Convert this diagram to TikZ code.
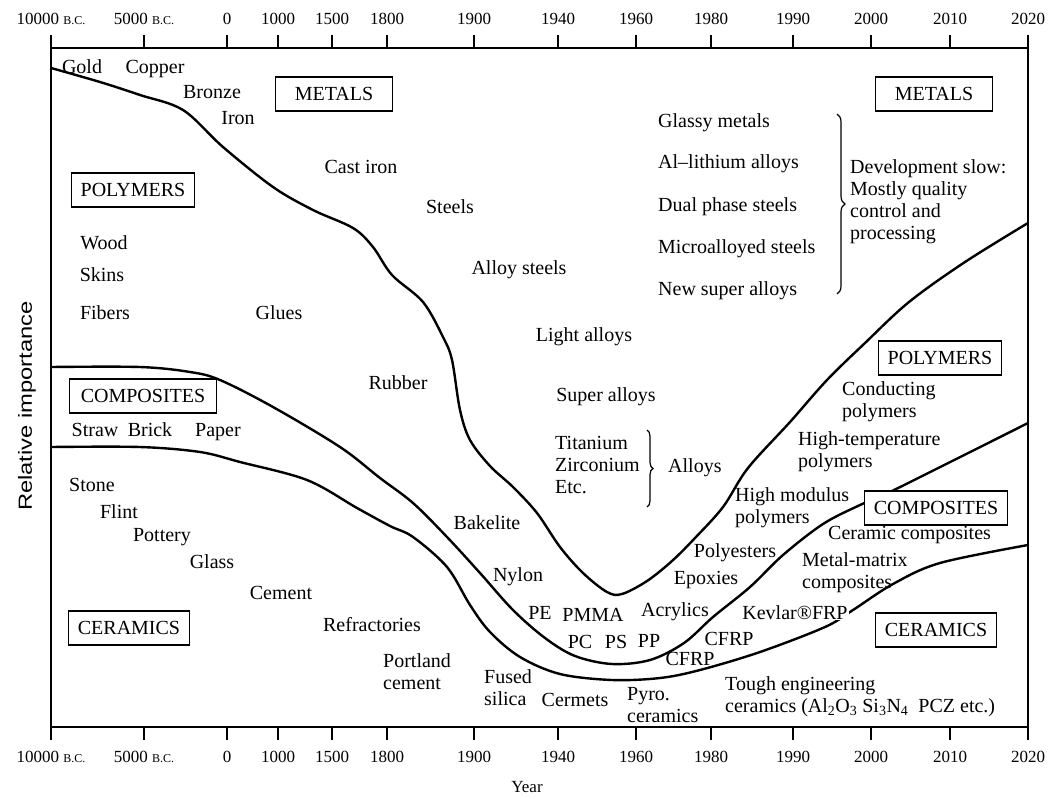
\documentclass[tikz,border=0pt]{standalone}
\usepackage{fontspec}
\setmainfont{Liberation Serif}
\setsansfont{Liberation Sans}
\usetikzlibrary{decorations.pathreplacing}

\begin{document}
\begin{tikzpicture}[x=1pt, y=-1pt,
  lbl/.style={inner sep=0pt, font=\fontsize{20}{22}\selectfont, align=left},
  cls/.style={draw, line width=1.2pt, fill=white, inner xsep=9pt, inner ysep=0pt, minimum height=34pt, font=\fontsize{20}{22}\selectfont},
  yr/.style={inner sep=0pt, font=\fontsize{17}{17}\selectfont},
  trend/.style={line width=2.4pt, line join=round, line cap=round},
  grp/.style={decorate, decoration={brace, amplitude=#1}, line width=1.2pt},
  grp/.default=8pt
]
  \useasboundingbox (0,0) rectangle (1055,798);

  \draw[line width=1.4pt] (51,48) rectangle (1028,727);
  \foreach \x/\t [count=\i] in {51/{10000 {\fontsize{12}{12}\selectfont B.C.}}, 144/{5000 {\fontsize{12}{12}\selectfont B.C.}},
      227/0, 278/1000, 332/1500, 387/1800, 474/1900, 558/1940, 636/1960, 711/1980, 793/1990, 871/2000, 950/2010, 1028/2020} {
    \draw[line width=1.4pt] (\x,48) -- (\x,35);
    \draw[line width=1.4pt] (\x,727) -- (\x,740);
    \node[yr] (top\i) at (\x,19) {\t};
    \node[yr] (bot\i) at (\x,757) {\t};
  }
  \node[yr] (year) at (527,787) {Year};
  \node[rotate=90, inner sep=0pt, font=\sffamily\fontsize{19}{19}\selectfont] (relimp) at (27,406) {\scalebox{1.25}[1]{Relative importance}};

  \draw[trend] plot[smooth, tension=0.55] coordinates {(51,68) (100,82) (140,95) (183,110) (223,147) (273,187) (313,210)
    (353,228) (373,247) (392,275) (423,302) (443,337) (452,360) (460,410) (470,440) (490,466) (513,487) (537,513)
    (560,547) (583,573) (607,592) (622,594) (647,581) (672,561) (695,538) (723,507) (748,468) (790,422) (827,380)
    (865,343) (909,302) (965,262) (1028,223)};
  \draw[trend] plot[smooth, tension=0.55] coordinates {(51,367) (140,367) (190,372) (220,380) (273,407) (340,447)
    (380,478) (413,503) (447,537) (480,573) (513,610) (545,638) (575,656) (612,664) (650,660) (684,643) (713,617)
    (750,587) (783,555) (823,524) (860,505) (890,492) (1028,423)};
  \draw[trend] plot[smooth, tension=0.55] coordinates {(51,447) (140,447) (200,452) (240,462) (307,480) (357,508)
    (390,526) (413,537) (447,567) (470,605) (490,632) (520,657) (560,674) (612,680) (660,678) (700,670) (760,652)
    (825,627) (853,610) (893,584) (940,563) (1028,545)};

  \node[cls, minimum width=117pt] (metalsL) at (334,94) {METALS};
  \node[cls, minimum width=117pt] (metalsR) at (934,94) {METALS};
  \node[cls] (polyL) at (133,190) {POLYMERS};
  \node[cls] (polyR) at (940,358) {POLYMERS};
  \node[cls, inner xsep=11pt] (compL) at (143,396) {COMPOSITES};
  \node[cls] (compR) at (936,508) {COMPOSITES};
  \node[cls] (ceramL) at (129,628) {CERAMICS};
  \node[cls] (ceramR) at (936,630) {CERAMICS};

  \node[lbl] (gold) at (82,67) {Gold};
  \node[lbl] (copper) at (155,69) {Copper};
  \node[lbl] (bronze) at (212,92) {Bronze};
  \node[lbl] (iron) at (238,118) {Iron};
  \node[lbl] (castiron) at (361,167) {Cast iron};
  \node[lbl] (steels) at (450,207) {Steels};
  \node[lbl] (alloysteels) at (519,270) {Alloy steels};
  \node[lbl] (lightalloys) at (584,337) {Light alloys};
  \node[lbl] (superalloys) at (606,397) {Super alloys};
  \node[lbl, anchor=west] (titanium) at (555,465) {Titanium\\Zirconium\\Etc.};
  \draw[grp=6pt] (647,430) -- (647,507);
  \node[lbl, anchor=west] (alloys) at (668,468) {Alloys};

  \node[lbl, anchor=west] (glassy) at (658,123) {Glassy metals};
  \node[lbl, anchor=west] (allith) at (658,164) {Al--lithium alloys};
  \node[lbl, anchor=west] (dual) at (658,207) {Dual phase steels};
  \node[lbl, anchor=west] (micro) at (658,249) {Microalloyed steels};
  \node[lbl, anchor=west] (newsuper) at (658,291) {New super alloys};
  \draw[grp] (837,114) -- (837,294);
  \node[lbl, anchor=west] (devslow) at (850,202) {Development slow:\\Mostly quality\\control and\\processing};

  \node[lbl] (wood) at (104,243) {Wood};
  \node[lbl] (skins) at (102,275) {Skins};
  \node[lbl] (fibers) at (105,313) {Fibers};
  \node[lbl] (glues) at (279,313) {Glues};
  \node[lbl] (rubber) at (398,383) {Rubber};
  \node[lbl] (bakelite) at (487,523) {Bakelite};
  \node[lbl] (nylon) at (518,577) {Nylon};
  \node[lbl] (pe) at (540,613) {PE};
  \node[lbl] (pmma) at (593,615) {PMMA};
  \node[lbl] (acrylics) at (675,612) {Acrylics};
  \node[lbl] (pc) at (580,642) {PC};
  \node[lbl] (ps) at (616,642) {PS};
  \node[lbl] (pp) at (649,641) {PP};
  \node[lbl] (cfrpA) at (729,639) {CFRP};
  \node[lbl] (cfrpB) at (690,659) {CFRP};
  \node[lbl, fill=white, inner xsep=1pt] (kevlar) at (795,613) {Kevlar\textregistered FRP};

  \node[lbl] (straw) at (95,430) {Straw};
  \node[lbl] (brick) at (150,430) {Brick};
  \node[lbl] (paper) at (218,432) {Paper};
  \node[lbl] (stone) at (92,485) {Stone};
  \node[lbl] (flint) at (119,512) {Flint};
  \node[lbl] (pottery) at (162,537) {Pottery};
  \node[lbl] (glass) at (212,562) {Glass};
  \node[lbl] (cement) at (281,593) {Cement};
  \node[lbl] (refract) at (372,625) {Refractories};
  \node[lbl, anchor=west] (portland) at (383,672) {Portland\\cement};
  \node[lbl, anchor=west] (fused) at (484,688) {Fused\\silica};
  \node[lbl] (cermets) at (575,700) {Cermets};
  \node[lbl, anchor=west] (pyro) at (627,705) {Pyro.\\ceramics};
  \node[lbl, anchor=west] (tough) at (725,697) {Tough engineering\\ceramics (Al\textsubscript{2}O\textsubscript{3} Si\textsubscript{3}N\textsubscript{4}\ \ PCZ etc.)};

  \node[lbl, anchor=west] (conducting) at (842,402) {Conducting\\polymers};
  \node[lbl, anchor=west] (hightemp) at (798,452) {High-temperature\\polymers};
  \node[lbl, anchor=west] (highmod) at (735,508) {High modulus\\polymers};
  \node[lbl, anchor=west] (ceramcomp) at (828,535) {Ceramic composites};
  \node[lbl] (polyesters) at (735,553) {Polyesters};
  \node[lbl] (epoxies) at (706,580) {Epoxies};
  \node[lbl, anchor=west] (metalmatrix) at (802,573) {Metal-matrix\\composites};
\end{tikzpicture}
\end{document}
